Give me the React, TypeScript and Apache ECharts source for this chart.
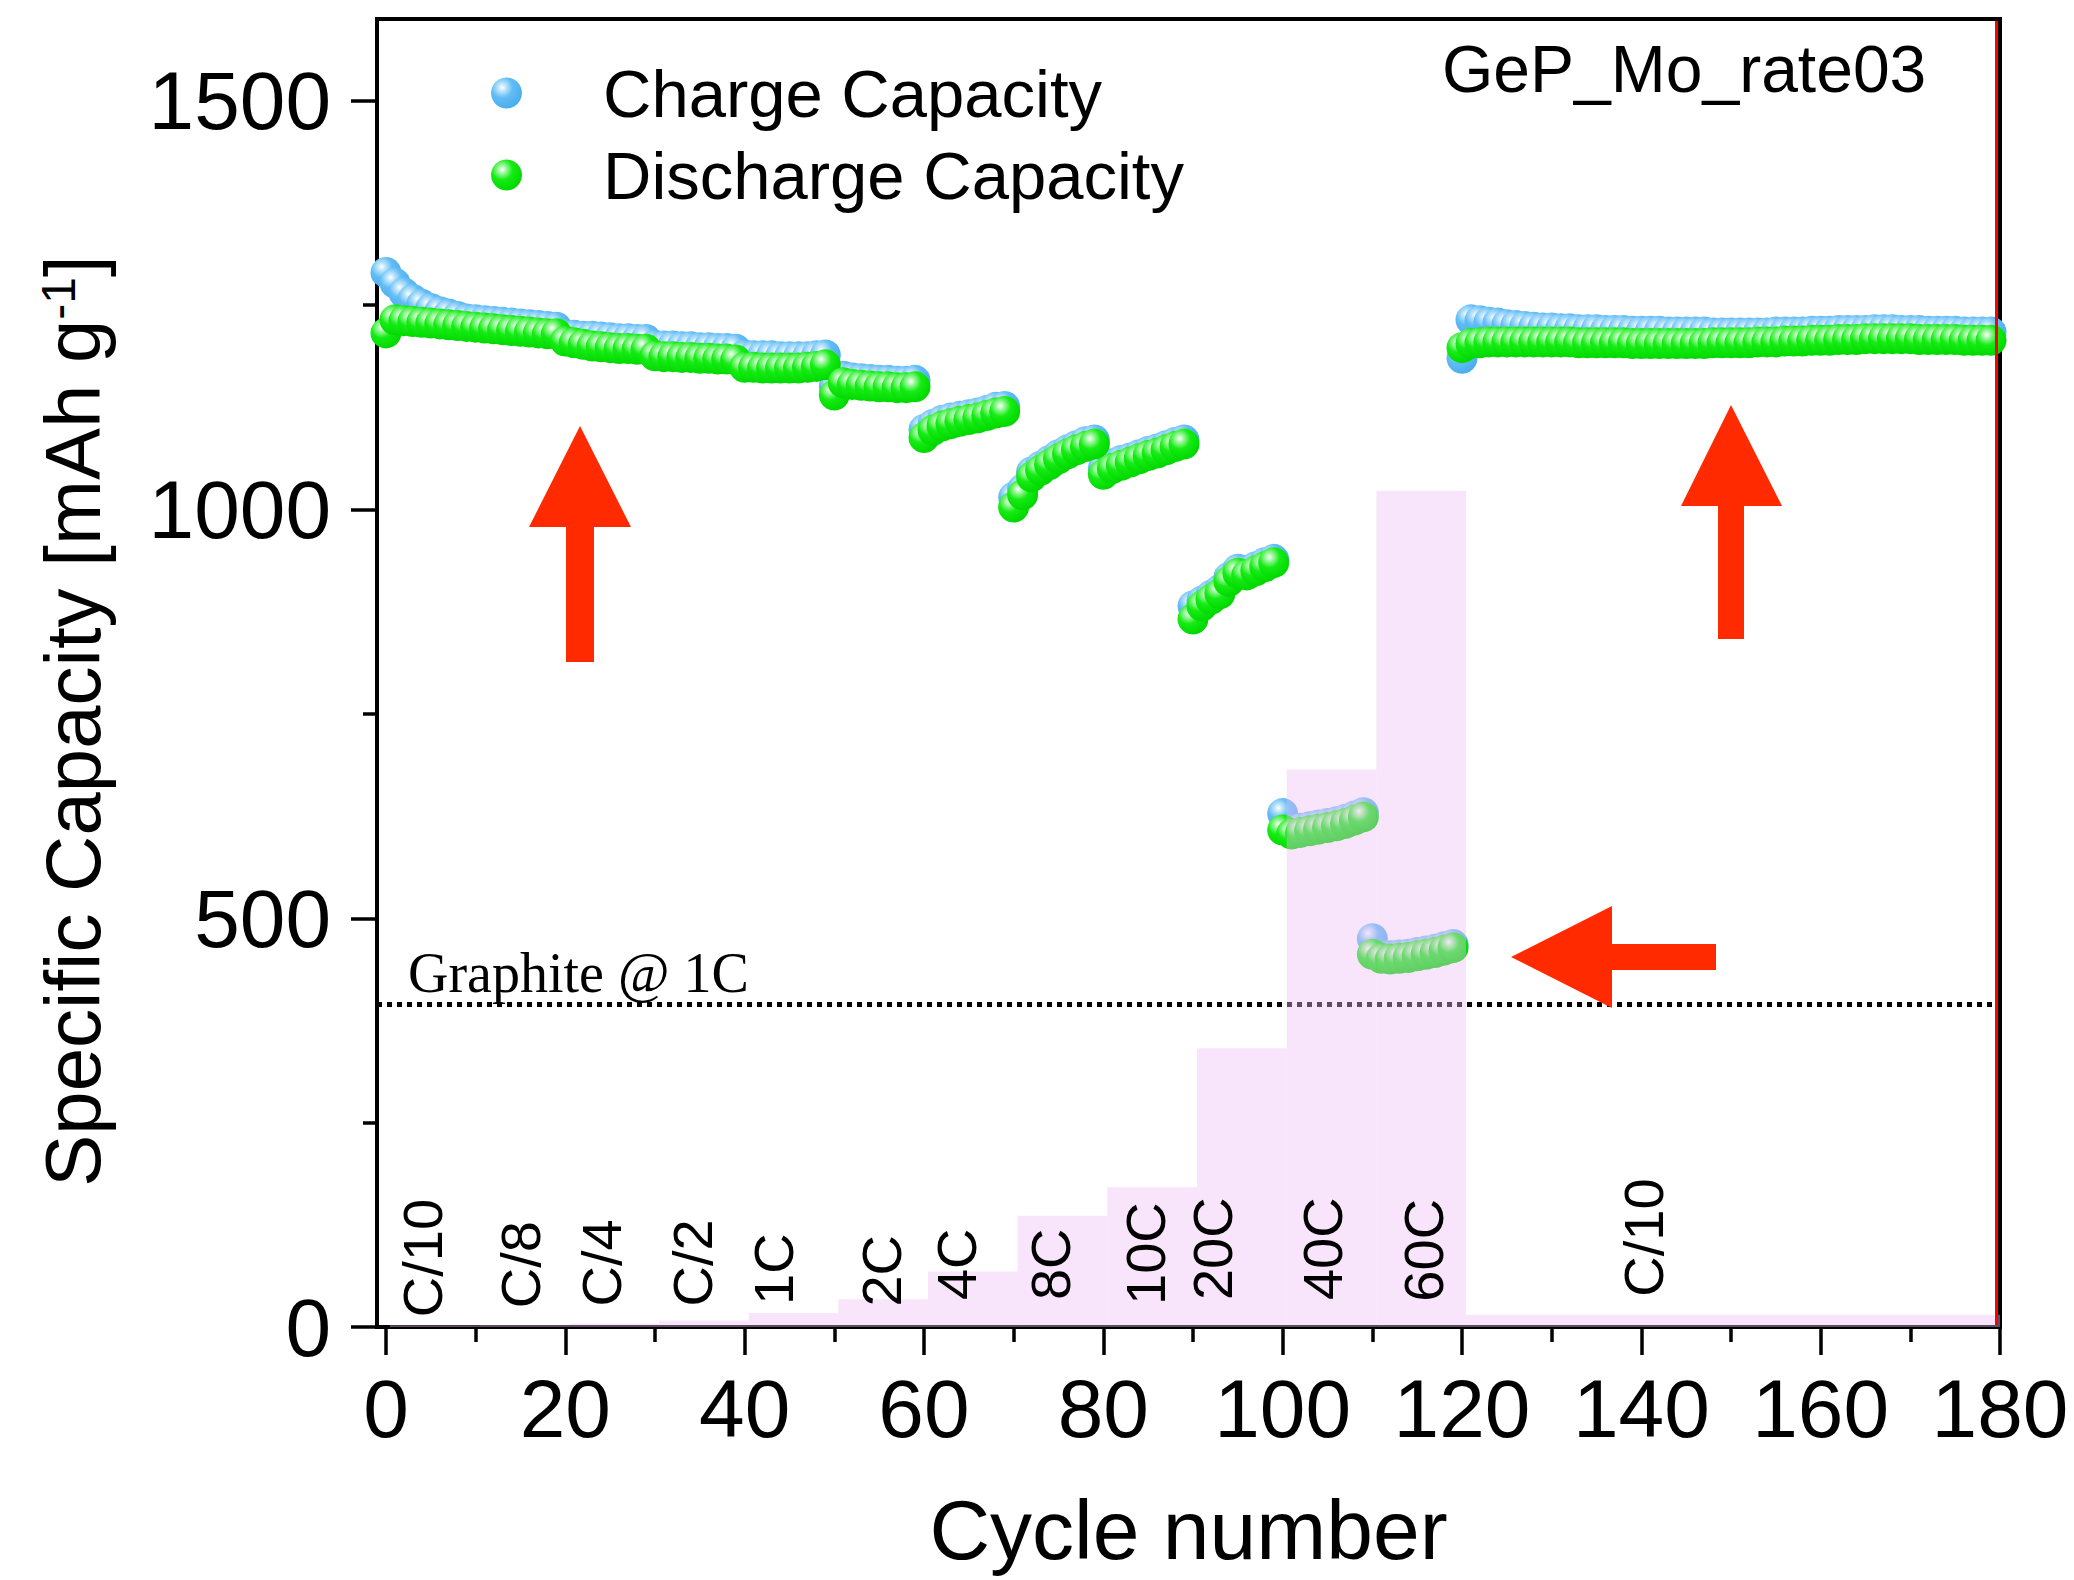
import React, { useEffect, useRef } from "react";
import * as echarts from "echarts";

const FONT = "'Liberation Sans', Arial, Helvetica, sans-serif";
const SERIF = "'Liberation Serif', 'Times New Roman', serif";

// cycle index of each measured point
const cycles = Array.from({ length: 180 }, (_, i) => i);

const chargeCapacity = [
  1290, 1277, 1265, 1257, 1251, 1246, 1242, 1239, 1236, 1233,
  1232, 1231, 1230, 1229, 1228, 1227, 1226, 1225, 1224, 1223,
  1214, 1213, 1212, 1212, 1211, 1210, 1209, 1209, 1208, 1208,
  1201, 1200, 1200, 1199, 1199, 1198, 1198, 1197, 1197, 1196,
  1189, 1188, 1188, 1188, 1187, 1187, 1187, 1187, 1188, 1189,
  1150, 1163, 1161, 1160, 1159, 1158, 1158, 1157, 1157, 1158,
  1098, 1104, 1109, 1112, 1114, 1116, 1118, 1121, 1125, 1126,
  1015, 1025, 1046, 1053, 1060, 1067, 1073, 1078, 1083, 1085,
  1050, 1056, 1060, 1063, 1067, 1071, 1074, 1078, 1082, 1085,
  882, 888, 895, 902, 917, 927, 925, 930, 935, 939,
  628, 608, 610, 612, 614, 616, 618, 621, 625, 629,
  475, 455, 454, 455, 456, 458, 460, 462, 465, 468,
  1185, 1232, 1231, 1229, 1228, 1226, 1225, 1224, 1223, 1222,
  1222, 1221, 1221, 1220, 1220, 1220, 1219, 1219, 1219, 1218,
  1218, 1218, 1218, 1217, 1217, 1217, 1217, 1217, 1216, 1216,
  1216, 1216, 1216, 1216, 1216, 1217, 1217, 1217, 1217, 1218,
  1218, 1218, 1219, 1219, 1219, 1219, 1220, 1220, 1220, 1219,
  1219, 1219, 1218, 1218, 1218, 1218, 1217, 1217, 1217, 1217,
];

const dischargeCapacity = [
  1216, 1232, 1231, 1230, 1229, 1228, 1227, 1226, 1225, 1224,
  1223, 1222, 1221, 1220, 1219, 1218, 1217, 1216, 1215, 1215,
  1206, 1204, 1202, 1200, 1199, 1198, 1197, 1197, 1196, 1196,
  1188, 1187, 1187, 1186, 1186, 1185, 1185, 1184, 1184, 1183,
  1174, 1174, 1173, 1173, 1173, 1173, 1173, 1174, 1175, 1177,
  1140, 1155, 1153, 1152, 1151, 1150, 1150, 1149, 1149, 1150,
  1088, 1097, 1102, 1105, 1108, 1110, 1112, 1115, 1118, 1120,
  1003, 1018, 1040, 1048, 1055, 1062, 1068, 1073, 1077, 1080,
  1043, 1050, 1054, 1058, 1062, 1066, 1069, 1073, 1077, 1080,
  866, 882, 890, 897, 912, 922, 920, 925, 930, 935,
  608, 603, 605, 607, 609, 611, 613, 616, 620, 624,
  456, 451, 450, 451, 452, 454, 456, 458, 461, 464,
  1198, 1203, 1204, 1205, 1205, 1205, 1205, 1205, 1205, 1205,
  1205, 1205, 1205, 1204, 1204, 1204, 1204, 1204, 1204, 1203,
  1203, 1203, 1203, 1203, 1203, 1203, 1203, 1203, 1204, 1204,
  1204, 1204, 1204, 1205, 1205, 1205, 1206, 1206, 1206, 1207,
  1207, 1207, 1208, 1208, 1208, 1209, 1209, 1209, 1209, 1209,
  1209, 1208, 1208, 1208, 1208, 1208, 1207, 1207, 1207, 1207,
];

// C-rate steps (pink background bars)
const rateNames = ["C/10", "C/8", "C/4", "C/2", "1C", "2C", "4C", "8C", "10C", "20C", "40C", "60C", "C/10"];
const rateStart = [0.45, 10.45, 20.45, 30.45, 40.45, 50.45, 60.45, 70.45, 80.45, 90.45, 100.45, 110.45, 120.45];
const rateEnd = [10.45, 20.45, 30.45, 40.45, 50.45, 60.45, 70.45, 80.45, 90.45, 100.45, 110.45, 120.45, 180];
const rateHeight = [2, 2.5, 4, 8, 17, 34, 68, 136, 171, 341, 682, 1023, 15];
const rateLabelX = [4.1, 15.0, 24.0, 34.2, 43.2, 55.3, 63.6, 74.1, 84.7, 92.2, 104.4, 115.7, 140.2];
const rateLabelY = [12, 23, 25, 25, 27, 25, 33, 33, 27, 33, 33, 31, 37];

const graphiteLevel = 395;

const xTicks = [0, 20, 40, 60, 80, 100, 120, 140, 160, 180];
const xMinorTicks = [10, 30, 50, 70, 90, 110, 130, 150, 170];
const yTicks = [0, 500, 1000, 1500];
const yMinorTicks = [250, 750, 1250];

function sphere(light: string, mid: string, base: string) {
  return new echarts.graphic.RadialGradient(0.36, 0.32, 0.68, [
    { offset: 0, color: "#ffffff" },
    { offset: 0.2, color: light },
    { offset: 0.5, color: mid },
    { offset: 1, color: base },
  ]);
}

export default function App() {
  const ref = useRef<HTMLDivElement>(null);

  useEffect(() => {
    if (!ref.current) return;
    const chart = echarts.init(ref.current, undefined, { renderer: "svg" });

    const blue = sphere("#b9e3fc", "#62bcf5", "#4aaeee");
    const green = sphere("#9af79a", "#14ec14", "#00d800");

    const option: any = {
      animation: false,
      backgroundColor: "#ffffff",
      grid: {
        left: 377,
        right: 74,
        top: 19,
        bottom: 253,
        show: true,
        borderColor: "#000",
        borderWidth: 4,
        backgroundColor: "transparent",
      },
      legend: {
        data: ["Charge Capacity", "Discharge Capacity"],
        orient: "vertical",
        left: 491,
        top: 58,
        padding: 0,
        itemWidth: 31,
        itemHeight: 31,
        itemGap: 12,
        icon: "circle",
        selectedMode: false,
        textStyle: { fontSize: 67, lineHeight: 70, fontFamily: FONT, color: "#000", padding: [0, 0, 0, 76] },
      },
      xAxis: [
        {
          type: "value",
          min: -1,
          max: 180,
          position: "bottom",
          axisLine: { show: true, onZero: false, lineStyle: { color: "#000", width: 4 } },
          axisTick: { show: true, customValues: xTicks, length: 28, inside: false, lineStyle: { color: "#000", width: 3.5 } },
          axisLabel: {
            show: true,
            customValues: xTicks,
            fontSize: 82,
            margin: 40,
            color: "#000",
            fontFamily: FONT,
            formatter: (v: number) => String(v),
          },
          splitLine: { show: false },
          name: "Cycle number",
          nameLocation: "middle",
          nameGap: 161,
          nameTextStyle: { fontSize: 84, color: "#000", fontFamily: FONT },
        },
        {
          type: "value",
          min: -1,
          max: 180,
          position: "bottom",
          axisLine: { show: false, onZero: false },
          axisTick: { show: true, customValues: xMinorTicks, length: 15, lineStyle: { color: "#000", width: 3.5 } },
          axisLabel: { show: false },
          splitLine: { show: false },
        },
      ],
      yAxis: [
        {
          type: "value",
          min: 0,
          max: 1600,
          position: "left",
          axisLine: { show: true, onZero: false, lineStyle: { color: "#000", width: 4 } },
          axisTick: { show: true, customValues: yTicks, length: 26, lineStyle: { color: "#000", width: 3.5 } },
          axisLabel: {
            show: true,
            customValues: yTicks,
            fontSize: 82,
            margin: 46,
            color: "#000",
            fontFamily: FONT,
            formatter: (v: number) => String(v),
          },
          splitLine: { show: false },
        },
        {
          type: "value",
          min: 0,
          max: 1600,
          position: "left",
          axisLine: { show: false, onZero: false },
          axisTick: { show: true, customValues: yMinorTicks, length: 14, lineStyle: { color: "#000", width: 3.5 } },
          axisLabel: { show: false },
          splitLine: { show: false },
        },
      ],
      series: [
        {
          name: "Charge Capacity",
          type: "scatter",
          xAxisIndex: 0,
          yAxisIndex: 0,
          symbol: "circle",
          symbolSize: 31,
          data: cycles.map((c, i) => [c, chargeCapacity[i]]),
          itemStyle: { color: blue, borderWidth: 0, opacity: 1 },
          z: 2,
        },
        {
          name: "Discharge Capacity",
          type: "scatter",
          xAxisIndex: 0,
          yAxisIndex: 0,
          symbol: "circle",
          symbolSize: 31,
          data: cycles.map((c, i) => [c, dischargeCapacity[i]]),
          itemStyle: { color: green, borderWidth: 0, opacity: 1 },
          z: 3,
          markLine: {
            silent: true,
            symbol: ["none", "none"],
            label: { show: false },
            lineStyle: { color: "#000", width: 5, type: [5, 5] },
            data: [{ yAxis: graphiteLevel }],
          },
        },
        {
          name: "rate",
          type: "custom",
          xAxisIndex: 0,
          yAxisIndex: 0,
          z: 5,
          silent: true,
          encode: { x: [0, 1], y: 2 },
          data: rateStart.map((s, i) => [s, rateEnd[i], rateHeight[i]]),
          renderItem: (params: any, api: any) => {
            const p0 = api.coord([api.value(0), api.value(2)]);
            const p1 = api.coord([api.value(1), 0]);
            return {
              type: "rect",
              shape: { x: p0[0], y: p0[1], width: p1[0] - p0[0], height: p1[1] - p0[1] },
              style: { fill: "rgba(240,190,245,0.4)" },
            };
          },
        },
        {
          name: "rateLabels",
          type: "custom",
          xAxisIndex: 0,
          yAxisIndex: 0,
          z: 6,
          silent: true,
          encode: { x: 0, y: 1 },
          data: rateLabelX.map((x, i) => [x, rateLabelY[i]]),
          renderItem: (params: any, api: any) => {
            const p = api.coord([api.value(0), api.value(1)]);
            return {
              type: "text",
              x: p[0],
              y: p[1],
              rotation: Math.PI / 2,
              style: {
                text: rateNames[params.dataIndex],
                fontSize: 56,
                fontFamily: FONT,
                fill: "#000",
                align: "left",
                verticalAlign: "middle",
              },
            };
          },
        },
      ],
      graphic: [
        {
          type: "text",
          x: 73,
          y: 721,
          rotation: Math.PI / 2,
          z: 10,
          style: {
            text: "Specific Capacity [mAh g{sup|-1}]",
            fontSize: 78,
            fontFamily: FONT,
            fill: "#000",
            align: "center",
            verticalAlign: "middle",
            rich: {
              sup: { fontSize: 48, fontFamily: FONT, fill: "#000", verticalAlign: "top", lineHeight: 48 },
            },
          },
        },
        {
          type: "text",
          x: 1442,
          y: 69,
          z: 10,
          style: { text: "GeP_Mo_rate03", fontSize: 66, fontFamily: FONT, fill: "#000", align: "left", verticalAlign: "middle" },
        },
        {
          type: "text",
          x: 408,
          y: 973,
          z: 10,
          style: { text: "Graphite @ 1C", fontSize: 56, fontFamily: SERIF, fill: "#000", align: "left", verticalAlign: "middle" },
        },
        {
          type: "polygon",
          z: 10,
          shape: { points: [[580, 426], [631, 527], [594, 527], [594, 662], [566, 662], [566, 527], [529, 527]] },
          style: { fill: "#ff2a00" },
        },
        {
          type: "polygon",
          z: 10,
          shape: { points: [[1731, 405], [1782, 506], [1744, 506], [1744, 639], [1718, 639], [1718, 506], [1681, 506]] },
          style: { fill: "#ff2a00" },
        },
        {
          type: "polygon",
          z: 10,
          shape: { points: [[1511, 957], [1612, 906], [1612, 944], [1716, 944], [1716, 970], [1612, 970], [1612, 1008]] },
          style: { fill: "#ff2a00" },
        },
        {
          type: "line",
          z: 10,
          shape: { x1: 1996.5, y1: 21, x2: 1996.5, y2: 1325 },
          style: { stroke: "#ff0000", lineWidth: 3 },
        },
      ],
    };

    chart.setOption(option);
    return () => chart.dispose();
  }, []);

  return (
    <div
      ref={ref}
      style={{ position: "absolute", left: 0, top: 0, width: 2074, height: 1580, background: "#ffffff" }}
    />
  );
}
